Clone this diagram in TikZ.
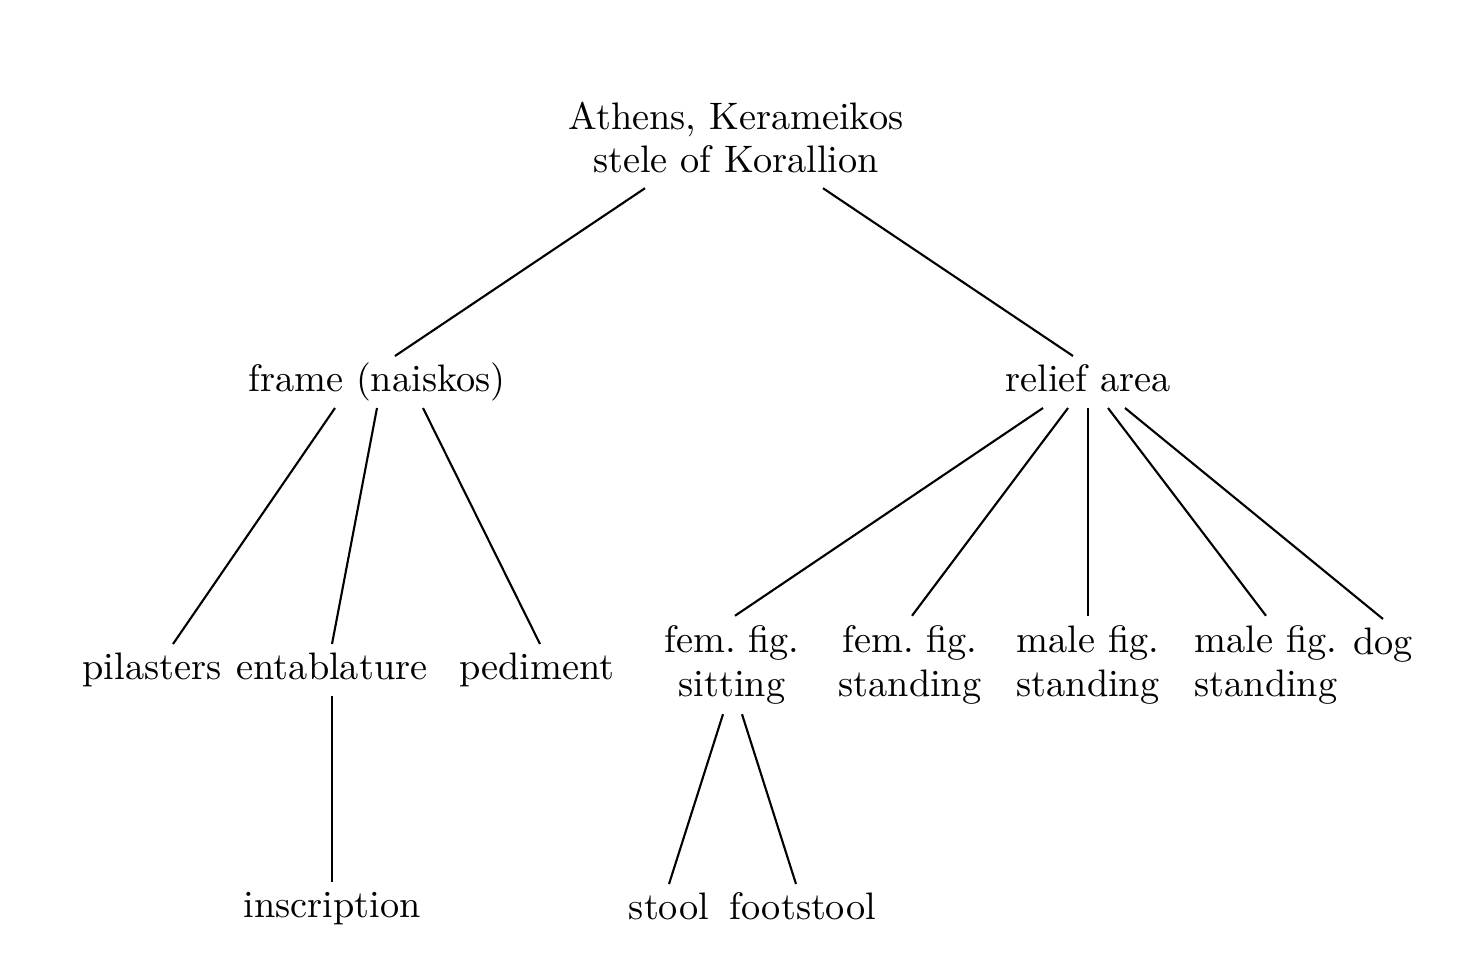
\documentclass[tikz,border=0pt]{standalone}
\begin{document}
\begin{tikzpicture}[
  lbl/.style={inner xsep=0pt, inner ysep=0.9mm, outer sep=0pt, text height=2.6mm, text depth=0.8mm,
    font=\fontsize{10.9}{12.4}\selectfont},
  lbltwo/.style={inner xsep=0pt, inner ysep=1mm, outer sep=0pt, align=center,
    font=\fontsize{10.9}{12.4}\selectfont},
  branch/.style={line width=0.6pt}]
  \useasboundingbox (0,0) rectangle (14.61,-9.64);
  % Top of the tree
  \node[lbltwo, inner ysep=1.5mm] (root) at (7.36,-1.375) {Athens, Kerameikos\\stele of Korallion};
  \node[lbl] (frame) at (3.77,-3.82) {frame (naiskos)};
  \node[lbl] (relief) at (10.88,-3.82) {relief area};
  % Parts of the frame
  \node[lbl] (pilasters) at (1.52,-6.70) {pilasters};
  \node[lbl] (entablature) at (3.32,-6.70) {entablature};
  \node[lbl] (pediment) at (5.37,-6.70) {pediment};
  \node[lbl] (inscription) at (3.32,-9.08) {inscription};
  % Figures of the relief
  \node[lbltwo] (femsit) at (7.32,-6.65) {fem.\ fig.\\sitting};
  \node[lbltwo] (femstand) at (9.10,-6.65) {fem.\ fig.\\standing};
  \node[lbltwo] (malestand) at (10.88,-6.65) {male fig.\\standing};
  \node[lbltwo] (maletwo) at (12.66,-6.65) {male fig.\\standing};
  \node[lbl] (dog) at (13.83,-6.45) {dog};
  \node[lbl] (stool) at (6.69,-9.10) {stool};
  \node[lbl] (footstool) at (8.03,-9.10) {footstool};
  % Branches
  \foreach \a/\sa/\b/\sb in {root/-9.1/frame/1.8, root/8.7/relief/-1.5,
      frame/-4.2/pilasters/2.1, frame/0/entablature/0, frame/4.6/pediment/0.3,
      entablature/0/inscription/0,
      relief/-4.5/femsit/0.3, relief/-2.0/femstand/0.2, relief/0/malestand/0,
      relief/2.0/maletwo/0, relief/3.7/dog/0,
      femsit/-0.9/stool/0, femsit/1.0/footstool/-0.7} {
    \draw[branch] ([xshift=\sa mm]\a.south) -- ([xshift=\sb mm]\b.north);
  }
\end{tikzpicture}
\end{document}
